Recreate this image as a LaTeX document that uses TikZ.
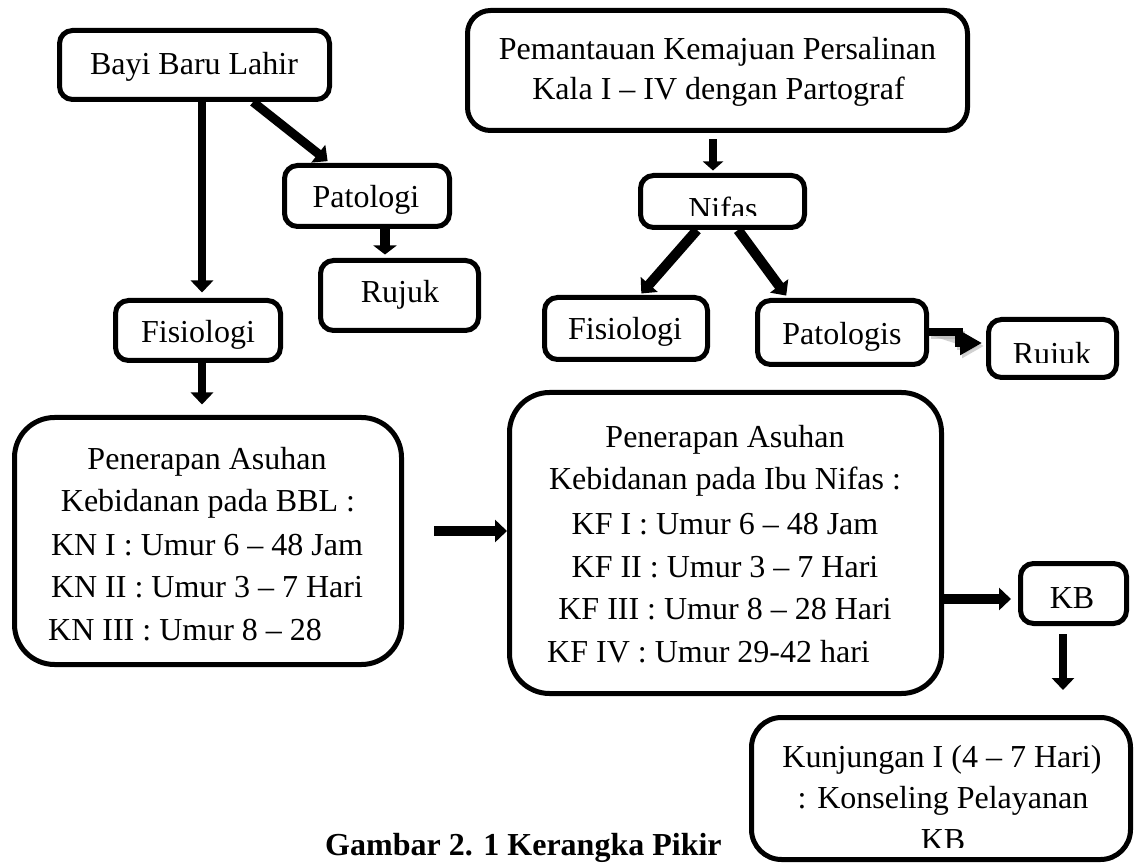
\documentclass[tikz,border=0pt]{standalone}
\usepackage{fontspec}
\setmainfont{Liberation Serif}
\usetikzlibrary{arrows.meta,fit,calc}
\begin{document}
\begin{tikzpicture}[x=1pt,y=-1pt,
  box/.style={draw, line width=5pt, inner sep=0pt, rounded corners=13pt},
  tx/.style={inner sep=0pt, anchor=base, font=\fontsize{32}{38}\selectfont},
  txw/.style={tx, anchor=base west},
  arr/.style={line width=8pt, -{Triangle[width=22pt,length=12pt]}},
  arrk/.style={line width=8pt, -{Triangle[width=23pt,length=22pt]}},
]
\useasboundingbox (0,0) rectangle (1136,866);

% ---------- boxes ----------
\node[box, fit={(59.5,30.5)(329.5,99.5)}] (bayi) {};
\node[box, fit={(284.5,165.5)(449.5,226.5)}] (patL) {};
\node[box, fit={(320.5,260.5)(478.5,330.5)}] (rujL) {};
\node[box, fit={(115.5,300.5)(280.5,360.5)}] (fisL) {};
\node[box, rounded corners=40pt, fit={(14.5,417.5)(401.5,664.5)}] (penL) {};
\node[box, rounded corners=23pt, fit={(467.5,10.5)(967.5,130.5)}] (pem) {};
\node[box, fit={(640.5,175.5)(804.5,227.5)}] (nifas) {};
\node[box, fit={(544.5,297.5)(707.5,359.5)}] (fisR) {};
\node[box, fit={(757.5,300.5)(926.5,364.5)}] (patR) {};
\node[box, fit={(988.5,319.5)(1116.5,377.5)}] (rujR) {};
\node[box, rounded corners=40pt, fit={(509.5,392.5)(941.5,693.5)}] (penR) {};
\node[box, fit={(1020.5,563.5)(1126.5,623.5)}] (kb) {};
\node[box, rounded corners=30pt, fit={(751.5,717.5)(1130.5,859.5)}] (kun) {};

% ---------- texts ----------
\node[tx] (tbayi) at (194,75) {Bayi Baru Lahir};
\node[tx] (tpatL) at (366,208) {Patologi};
\node[tx] (trujL) at (400,303) {Rujuk};
\node[tx] (tfisL) at (198,343) {Fisiologi};

\node[tx] (tpenL1) at (207,470) {Penerapan Asuhan};
\node[tx] (tpenL2) at (208,512) {Kebidanan pada BBL :};
\node[tx] (tpenL3) at (207,555) {KN I : Umur 6 – 48 Jam};
\node[tx] (tpenL4) at (207,597) {KN II : Umur 3 – 7 Hari};
\node[txw] (tpenL5) at (48,640) {KN III : Umur 8 – 28};

\node[tx] (tpem1) at (717.5,60) {Pemantauan Kemajuan Persalinan};
\node[tx] (tpem2) at (718.5,100) {Kala I – IV dengan Partograf};

\begin{scope}
  \clip (600,150) rectangle (850,216);
  \node[tx] (tnifas) at (723,220) {Nifas};
\end{scope}
\node[tx] (tfisR) at (625,340) {Fisiologi};
\node[tx] (tpatR) at (842,345) {Patologis};
\begin{scope}
  \clip (990,320) rectangle (1115,363);
  \node[tx] (trujR) at (1052,365) {Rujuk};
\end{scope}

\node[tx] (tpenR1) at (725,448) {Penerapan Asuhan};
\node[tx] (tpenR2) at (725,490) {Kebidanan pada Ibu Nifas :};
\node[tx] (tpenR3) at (725,534) {KF I : Umur 6 – 48 Jam};
\node[tx] (tpenR4) at (725,577) {KF II : Umur 3 – 7 Hari};
\node[tx] (tpenR5) at (725,619) {KF III : Umur 8 – 28 Hari};
\node[txw] (tpenR6) at (547,662) {KF IV : Umur 29-42 hari};

\node[tx] (tkb) at (1072,608) {KB};

\node[tx] (tkun1) at (942,767) {Kunjungan I (4 – 7 Hari)};
\node[tx] (tkun2) at (943,808) {: Konseling Pelayanan};
\begin{scope}
  \clip (760,720) rectangle (1125,847);
  \node[tx] (tkun3) at (943,850) {KB};
\end{scope}

\node[txw, font=\fontsize{32}{38}\selectfont\bfseries] (caption) at (325,855) {Gambar 2. 1 Kerangka Pikir};

% ---------- connectors ----------
\draw[arr, shorten >=5.5pt] ([xshift=7.5pt]bayi.south) -- ([xshift=7.5pt]bayi.south |- fisL.north);
\draw[arr, line width=9pt, shorten >=3pt] ([xshift=58.5pt]bayi.south) -- ([xshift=-37pt]patL.north);
\draw[arr, line width=10pt, -{Triangle[width=23pt,length=9pt]}, shorten >=3.5pt] ([xshift=18pt]patL.south) -- ([xshift=18pt]patL.south |- rujL.north);
\draw[arr, shorten >=10.5pt] ([xshift=4pt]fisL.south) -- ([xshift=4pt]fisL.south |- penL.north);
\draw[arr, line width=10pt, shorten <=30pt] ([yshift=10pt]penL.east) -- ([yshift=10pt]penL.east -| penR.west);

\draw[arr, -{Triangle[width=20pt,length=9pt]}, shorten <=6.5pt, shorten >=2.5pt] ([xshift=-4.5pt]pem.south) -- ([xshift=-4.5pt]pem.south |- nifas.north);
\draw[arr, line width=10pt, shorten >=2pt] ([xshift=-25.5pt]nifas.south) -- ([xshift=14pt]fisR.north);
\draw[arr, line width=10pt, shorten >=3pt] ([xshift=15.5pt]nifas.south) -- ([xshift=-54pt]patR.north);

\draw[arrk, draw=black!30, fill=black!30, opacity=0.6, shorten >=4pt,
      transform canvas={shift={(2pt,-3pt)}}] (patR.east) -- ++(30,0) |- ([yshift=5.5pt]rujR.west);
\draw[arrk, shorten >=4pt] (patR.east) -- ++(30,0) |- ([yshift=5.5pt]rujR.west);

\draw[arr, line width=10pt, shorten >=7pt] ([yshift=-5.5pt]kb.west -| penR.east) -- ([yshift=-5.5pt]kb.west);
\draw[arr, shorten <=8pt, shorten >=25pt] ([xshift=-10.5pt]kb.south) -- ([xshift=-10.5pt]kb.south |- kun.north);
\end{tikzpicture}
\end{document}
